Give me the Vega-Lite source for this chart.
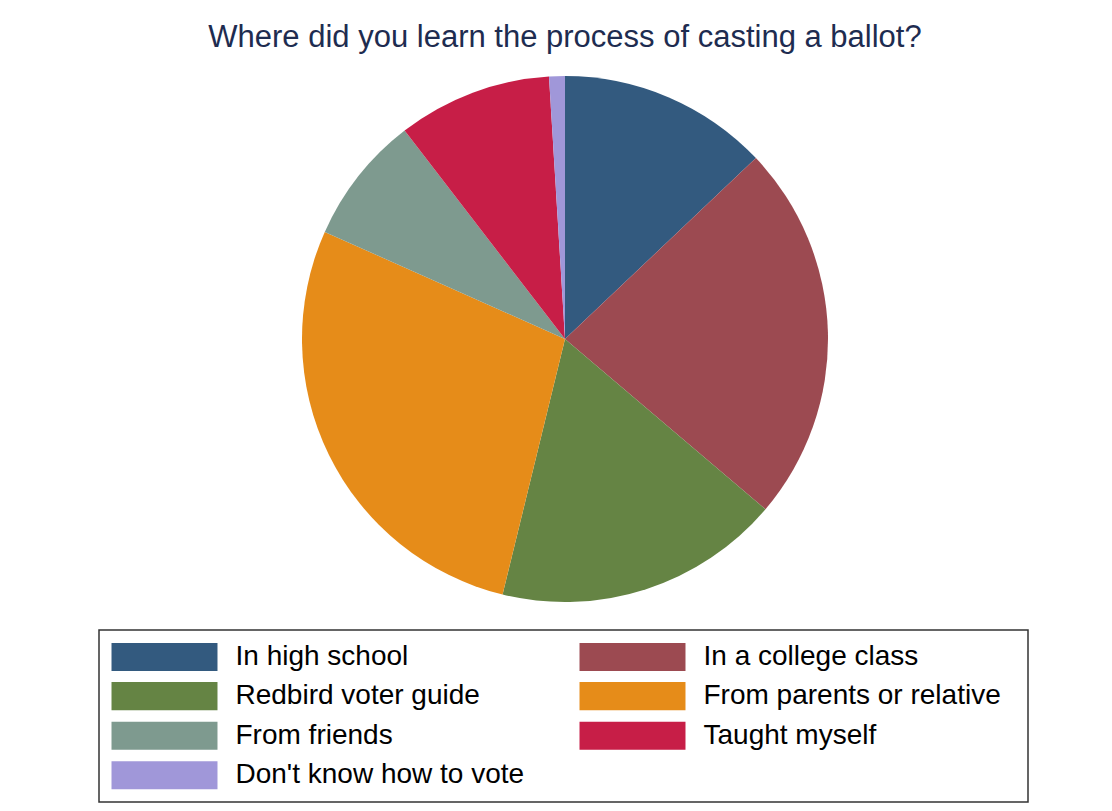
{
  "$schema": "https://vega.github.io/schema/vega-lite/v6.json",
  "width": 1094,
  "height": 526,
  "autosize": {"type": "none"},
  "padding": {"left": 18, "top": 76, "right": 0, "bottom": 209},
  "background": "white",
  "title": {
    "text": "Where did you learn the process of casting a ballot?",
    "font": "Liberation Sans",
    "fontSize": 31,
    "fontWeight": "normal",
    "color": "#1e2c50",
    "anchor": "middle",
    "offset": 22
  },
  "data": {
    "values": [
      {"source": "In high school", "percent": 12.93, "order": 1},
      {"source": "In a college class", "percent": 23.28, "order": 2},
      {"source": "Redbird voter guide", "percent": 17.61, "order": 3},
      {"source": "From parents or relative", "percent": 27.86, "order": 4},
      {"source": "From friends", "percent": 7.89, "order": 5},
      {"source": "Taught myself", "percent": 9.47, "order": 6},
      {"source": "Don't know how to vote", "percent": 0.97, "order": 7}
    ]
  },
  "mark": {"type": "arc", "strokeWidth": 0},
  "encoding": {
    "theta": {"field": "percent", "type": "quantitative", "stack": true},
    "order": {"field": "order", "type": "quantitative"},
    "color": {
      "field": "source",
      "type": "nominal",
      "scale": {
        "domain": ["In high school", "In a college class", "Redbird voter guide", "From parents or relative", "From friends", "Taught myself", "Don't know how to vote"],
        "range": ["#335a7f", "#9c4a51", "#658444", "#e68c19", "#7e9a8f", "#c71e47", "#a097d9"]
      },
      "legend": {
        "orient": "none",
        "direction": "horizontal",
        "legendX": 81,
        "legendY": 554,
        "columns": 2,
        "columnPadding": 55,
        "rowPadding": 9.6,
        "symbolType": "M-4,-1.06H4V1.06H-4Z",
        "symbolSize": 702,
        "symbolStrokeWidth": 0,
        "symbolOpacity": 1,
        "symbolOffset": 39,
        "labelFont": "Liberation Sans",
        "labelFontSize": 28,
        "labelColor": "black",
        "labelOffset": 57,
        "labelLimit": 600,
        "padding": 12.5,
        "strokeColor": "#333333",
        "fillColor": "white",
        "title": " ",
        "titleOrient": "right",
        "titlePadding": 15,
        "titleFontSize": 1,
        "encode": {"legend": {"update": {"strokeWidth": {"value": 1.5}}}}
      }
    }
  },
  "view": {"stroke": null}
}
